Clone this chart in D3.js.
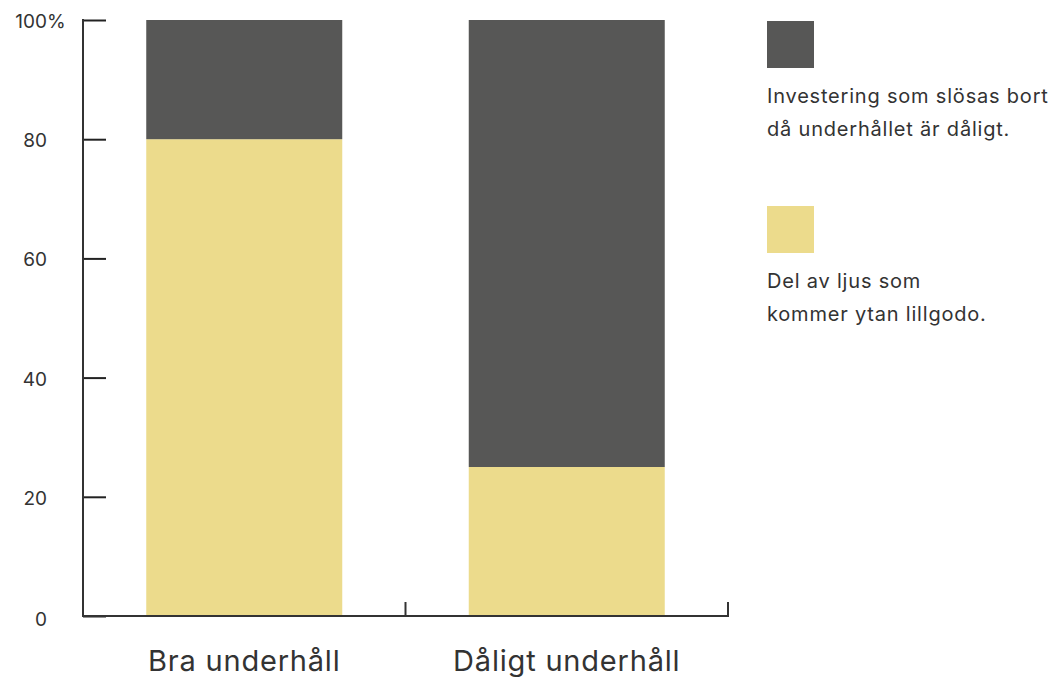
<!DOCTYPE html>
<html>
<head>
<meta charset="utf-8">
<script src="https://cdn.jsdelivr.net/npm/d3@7"></script>
<style>
  body { margin: 0; background: #fff; }
  text { font-family: "Inter", "Noto Sans", sans-serif; fill: #333; }
</style>
</head>
<body>
<div class="vis-stack"></div>
<script>
const categories = ["Bra underhåll", "Dåligt underhåll"];
const useful = [80, 25];      // Del av ljus som kommer ytan tillgodo
const wasted = [20, 75];      // Investering som slösas bort
const yTicks = [0, 20, 40, 60, 80, 100];
const legendLabels = [
  ["Investering som slösas bort", "då underhållet är dåligt."],
  ["Del av ljus som", "kommer ytan lillgodo."]
];

const colors = { wasted: "#575756", useful: "#ecdb8c" };
const W = 1057, H = 677;

let svg = d3.select(".vis-stack")
  .append("svg")
  .attr("width", W)
  .attr("height", H);

let x = d3.scaleBand()
  .domain(categories)
  .range([83, 728])
  .paddingInner(0)
  .paddingOuter(0);

let y = d3.scaleLinear()
  .domain([0, 100])
  .range([616, 20]);

const barW = 196;

let data = categories.map((c, i) => ({ cat: c, useful: useful[i], wasted: wasted[i] }));
let stacked = d3.stack().keys(["useful", "wasted"])(data);

svg.append("g")
  .selectAll("g")
  .data(stacked)
  .join("g")
    .attr("fill", d => colors[d.key])
  .selectAll("rect")
  .data(d => d)
  .join("rect")
    .attr("x", d => x(d.data.cat) + (x.bandwidth() - barW) / 2)
    .attr("y", d => y(d[1]))
    .attr("width", barW)
    .attr("height", d => y(d[0]) - y(d[1]));

// y axis
let yAxis = svg.append("g")
  .attr("transform", "translate(83,0)")
  .call(d3.axisRight(y).tickValues(yTicks).tickSize(23).tickFormat(""));
yAxis.select(".domain").remove();
yAxis.selectAll(".tick line").attr("stroke", "#222").attr("stroke-width", 2);
svg.append("line")
  .attr("x1", 83).attr("x2", 83)
  .attr("y1", y(100) - 1).attr("y2", y(0) + 1)
  .attr("stroke", "#333").attr("stroke-width", 2);

svg.append("g")
  .selectAll("text")
  .data(yTicks)
  .join("text")
    .attr("x", 47)
    .attr("y", d => y(d) + (d === 0 ? 10 : 8))
    .attr("text-anchor", "end")
    .attr("font-size", 19)
    .text(d => d);
svg.append("text")
  .attr("x", 47)
  .attr("y", y(100) + 8)
  .attr("font-size", 19)
  .text("%");

// x axis
svg.append("line")
  .attr("x1", 83).attr("x2", 729)
  .attr("y1", y(0)).attr("y2", y(0))
  .attr("stroke", "#333").attr("stroke-width", 2);
let edges = [x.range()[0]].concat(categories.map(c => x(c) + x.bandwidth()));
svg.append("g")
  .selectAll("line")
  .data(edges)
  .join("line")
    .attr("x1", d => d).attr("x2", d => d)
    .attr("y1", y(0) - 14).attr("y2", y(0))
    .attr("stroke", "#333").attr("stroke-width", 2);

svg.append("g")
  .selectAll("text")
  .data(categories)
  .join("text")
    .attr("x", d => x(d) + x.bandwidth() / 2)
    .attr("y", 671)
    .attr("text-anchor", "middle")
    .attr("font-size", 29)
    .attr("letter-spacing", 0.8)
    .text(d => d);

// legend
const legend = svg.append("g").attr("transform", "translate(767,21)");
const legendKeys = ["wasted", "useful"];
legendKeys.forEach((k, i) => {
  const g = legend.append("g").attr("transform", `translate(0,${i * 185})`);
  g.append("rect").attr("width", 47).attr("height", 47).attr("fill", colors[k]);
  g.selectAll("text")
    .data(legendLabels[i])
    .join("text")
      .attr("x", 0)
      .attr("y", (d, j) => 82 + j * 33)
      .attr("font-size", 20)
      .attr("letter-spacing", 0.8)
      .text(d => d);
});
</script>
</body>
</html>
